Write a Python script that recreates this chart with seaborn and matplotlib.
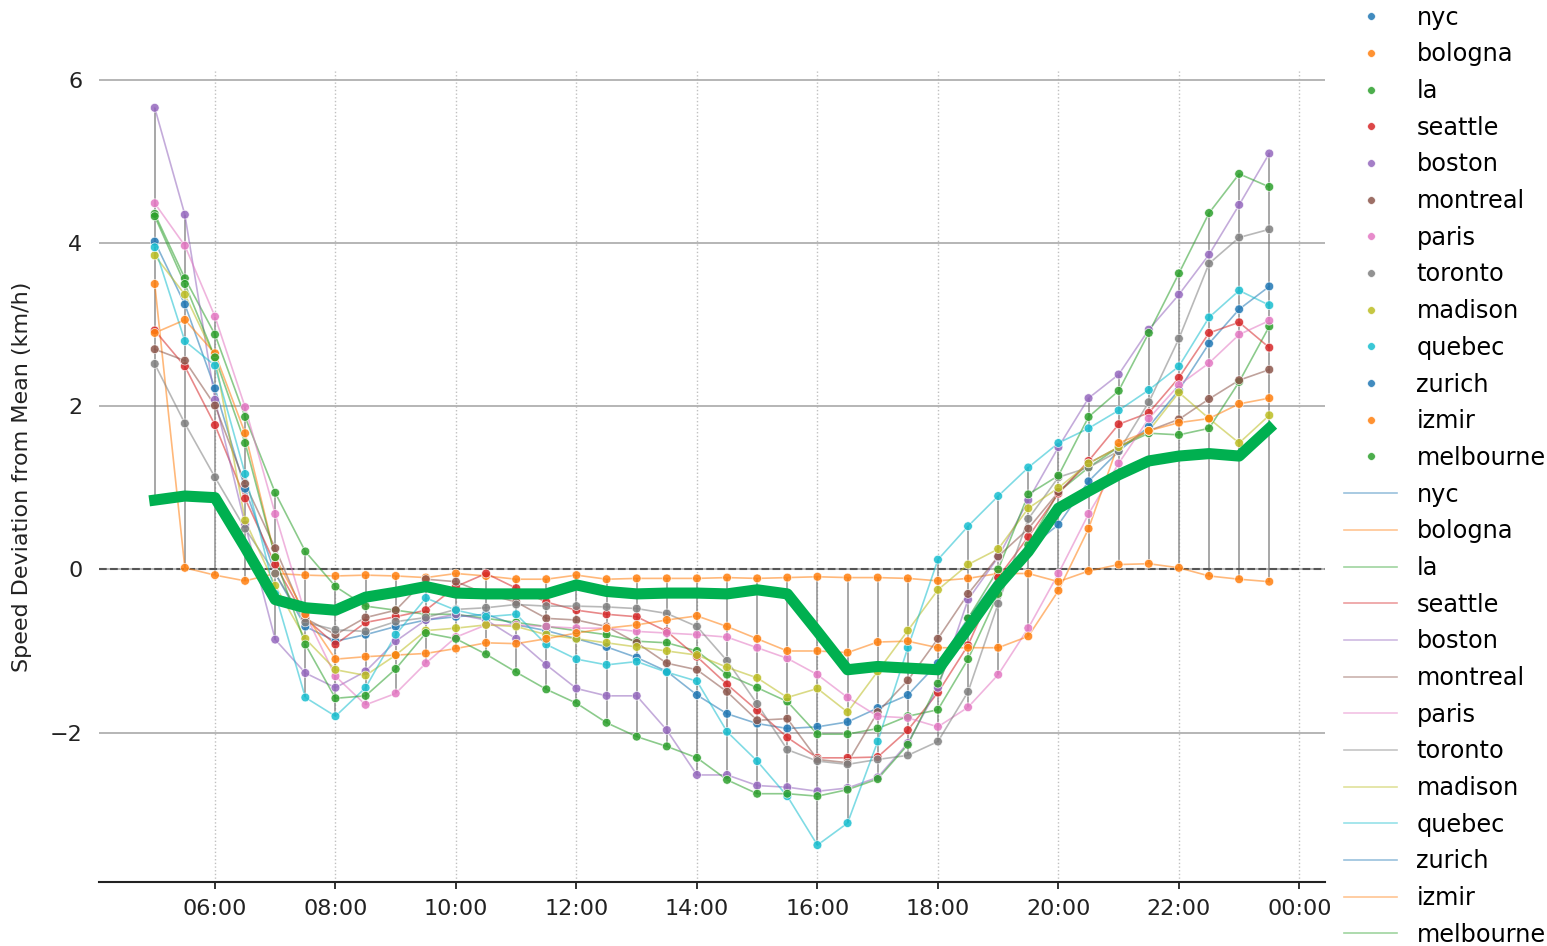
import pandas as pd
import numpy as np
import seaborn as sns
import matplotlib.pyplot as plt
import matplotlib.dates as mdates
from matplotlib.lines import Line2D

# heures (pas de 30 min)
heures = ["05:00", "05:30", "06:00", "06:30", "07:00", "07:30", "08:00", "08:30",
          "09:00", "09:30", "10:00", "10:30", "11:00", "11:30", "12:00", "12:30",
          "13:00", "13:30", "14:00", "14:30", "15:00", "15:30", "16:00", "16:30",
          "17:00", "17:30", "18:00", "18:30", "19:00", "19:30", "20:00", "20:30",
          "21:00", "21:30", "22:00", "22:30", "23:00", "23:30"]

villes = ['nyc', 'bologna', 'la', 'seattle', 'boston', 'montreal', 'paris',
          'toronto', 'madison', 'quebec', 'zurich', 'izmir', 'melbourne']

nyc = [4.02, 3.25, 2.22, 0.99, -0.05, -0.70, -0.88, -0.80, -0.70, -0.62, -0.58, -0.55, -0.68,
       -0.75, -0.85, -0.95, -1.08, -1.25, -1.54, -1.77, -1.89, -1.95, -1.93, -1.87, -1.70,
       -1.54, -1.15, -0.60, -0.10, 0.25, 0.55, 1.08, 1.45, 1.75, 2.20, 2.77, 3.19, 3.47]
bologna = [3.50, 0.02, -0.07, -0.14, -0.05, -0.07, -0.08, -0.07, -0.08, -0.10, -0.05, -0.08, -0.12,
           -0.12, -0.07, -0.12, -0.11, -0.11, -0.11, -0.10, -0.11, -0.10, -0.09, -0.10, -0.10,
           -0.11, -0.14, -0.11, -0.05, -0.05, -0.15, -0.02, 0.06, 0.07, 0.02, -0.08, -0.12, -0.15]
la = [4.36, 3.57, 2.88, 1.87, 0.94, 0.22, -0.21, -0.45, -0.50, -0.55, -0.55, -0.60, -0.65,
      -0.70, -0.75, -0.80, -0.88, -0.90, -1.00, -1.29, -1.45, -1.62, -2.02, -2.02, -1.95,
      -1.80, -1.72, -1.10, -0.30, 0.30, 0.95, 1.25, 1.50, 1.67, 1.65, 1.73, 2.30, 2.98]
seattle = [2.93, 2.49, 1.77, 0.87, 0.06, -0.60, -0.92, -0.65, -0.58, -0.50, -0.21, -0.05, -0.23,
           -0.40, -0.50, -0.55, -0.58, -0.76, -1.07, -1.41, -1.73, -2.06, -2.31, -2.31, -2.30,
           -1.97, -1.51, -0.93, -0.10, 0.40, 0.93, 1.33, 1.78, 1.92, 2.35, 2.90, 3.03, 2.72]
boston = [5.66, 4.35, 2.08, 0.55, -0.86, -1.27, -1.45, -1.25, -0.88, -0.62, -0.55, -0.62, -0.85,
          -1.17, -1.46, -1.55, -1.55, -1.97, -2.52, -2.52, -2.65, -2.67, -2.72, -2.68, -2.55,
          -2.13, -1.45, -0.37, 0.15, 0.85, 1.50, 2.10, 2.39, 2.94, 3.37, 3.86, 4.47, 5.10]
montreal = [2.70, 2.56, 2.01, 1.05, 0.26, -0.60, -0.80, -0.59, -0.50, -0.12, -0.15, -0.30, -0.40,
            -0.60, -0.62, -0.70, -0.90, -1.15, -1.23, -1.50, -1.85, -1.83, -2.33, -2.37, -1.75,
            -1.36, -0.85, -0.30, 0.16, 0.50, 0.95, 1.30, 1.50, 1.70, 1.84, 2.09, 2.32, 2.45]
paris = [4.49, 3.97, 3.10, 1.99, 0.68, -0.55, -1.31, -1.66, -1.52, -1.15, -0.83, -0.68, -0.68,
         -0.70, -0.72, -0.72, -0.76, -0.78, -0.80, -0.83, -0.96, -1.09, -1.29, -1.57, -1.80,
         -1.82, -1.93, -1.69, -1.29, -0.72, -0.05, 0.68, 1.30, 1.85, 2.26, 2.53, 2.88, 3.05]
toronto = [2.52, 1.79, 1.13, 0.50, -0.05, -0.65, -0.74, -0.76, -0.64, -0.59, -0.49, -0.47, -0.43,
           -0.45, -0.45, -0.46, -0.48, -0.54, -0.70, -1.12, -1.65, -2.21, -2.35, -2.39, -2.33,
           -2.28, -2.11, -1.50, -0.42, 0.62, 1.13, 1.25, 1.45, 2.05, 2.83, 3.75, 4.07, 4.17]
madison = [3.85, 3.37, 2.60, 0.60, -0.20, -0.85, -1.23, -1.30, -1.05, -0.75, -0.72, -0.68, -0.70,
           -0.80, -0.85, -0.90, -0.95, -1.00, -1.05, -1.20, -1.33, -1.57, -1.46, -1.75, -1.25,
           -0.75, -0.25, 0.06, 0.25, 0.75, 1.00, 1.30, 1.50, 1.70, 2.17, 1.85, 1.55, 1.89]
quebec = [3.95, 2.80, 2.50, 1.17, -0.30, -1.57, -1.80, -1.45, -0.80, -0.35, -0.50, -0.58, -0.55,
          -0.92, -1.10, -1.17, -1.13, -1.26, -1.37, -1.99, -2.35, -2.78, -3.38, -3.11, -2.11,
          -0.96, 0.12, 0.53, 0.90, 1.25, 1.55, 1.73, 1.95, 2.20, 2.49, 3.09, 3.42, 3.24]
zurich = [0.85, 0.90, 0.88, 0.27, -0.37, -0.47, -0.50, -0.34, -0.28, -0.21, -0.29, -0.30, -0.30,
          -0.30, -0.19, -0.27, -0.30, -0.29, -0.29, -0.30, -0.25, -0.30, -0.76, -1.23, -1.19,
          -1.21, -1.23, -0.72, -0.20, 0.22, 0.75, 0.96, 1.16, 1.33, 1.39, 1.42, 1.39, 1.73]
izmir = [2.90, 3.06, 2.65, 1.67, 0.15, -0.55, -1.10, -1.07, -1.05, -1.03, -0.97, -0.90, -0.91,
         -0.85, -0.78, -0.72, -0.68, -0.62, -0.57, -0.70, -0.85, -1.00, -1.00, -1.02, -0.89,
         -0.88, -0.96, -0.96, -0.96, -0.82, -0.26, 0.50, 1.55, 1.70, 1.80, 1.85, 2.03, 2.10]
melbourne = [4.33, 3.50, 2.60, 1.55, 0.15, -0.92, -1.58, -1.55, -1.22, -0.78, -0.85, -1.04, -1.26,
             -1.47, -1.64, -1.88, -2.05, -2.17, -2.31, -2.58, -2.75, -2.75, -2.78, -2.70, -2.57,
             -2.15, -1.40, -0.60, 0.00, 0.92, 1.15, 1.87, 2.19, 2.90, 3.63, 4.37, 4.85, 4.69]

series = [nyc, bologna, la, seattle, boston, montreal, paris, toronto, madison, quebec,
          zurich, izmir, melbourne]
ville_cible = 'zurich'

# tableau long pour seaborn
df = pd.DataFrame({
    'heure': heures * len(villes),
    'ville': np.repeat(villes, len(heures)),
    'deviation': np.concatenate(series),
})
df['time'] = pd.to_datetime('2024-01-01 ' + df['heure'])

tab10 = sns.color_palette('tab10')
palette = {v: tab10[i % 10] for i, v in enumerate(villes)}

fig = plt.figure(figsize=(15.47, 9.46), dpi=100)
ax = fig.add_axes([0.064, 0.0677, 0.7925, 0.8573])

# plage min-max a chaque heure
grp = df.groupby('time')['deviation']
ax.vlines(grp.min().index, grp.min().values, grp.max().values,
          color='#7f7f7f', lw=1.2, alpha=0.8, zorder=1)

ax.axhline(0, color='#555555', ls='--', lw=1.5, zorder=2)

sns.lineplot(data=df, x='time', y='deviation', hue='ville', palette=palette,
             lw=1.2, alpha=0.55, legend=False, ax=ax, zorder=2)
sns.scatterplot(data=df, x='time', y='deviation', hue='ville', palette=palette,
                s=40, alpha=0.85, edgecolor='white', linewidth=0.5, legend=False, ax=ax, zorder=3)
sns.lineplot(data=df[df['ville'] == ville_cible], x='time', y='deviation',
             color='#00b050', lw=8, legend=False, ax=ax, zorder=4)

ax.grid(axis='y', color='#b0b0b0', lw=1.3)
ax.grid(axis='x', color='#c0c0c0', lw=1.0, ls=':')
ax.set_axisbelow(True)

for side in ['top', 'right', 'left']:
    ax.spines[side].set_visible(False)
ax.spines['bottom'].set_linewidth(1.5)
ax.spines['bottom'].set_color('#222222')

ax.xaxis.set_major_locator(mdates.HourLocator(byhour=range(0, 24, 2)))
ax.xaxis.set_major_formatter(mdates.DateFormatter('%H:%M'))
ax.tick_params(axis='x', labelsize=16, length=5, width=1.3, pad=7, colors='#222222')
ax.tick_params(axis='y', labelsize=16, length=0, pad=12, colors='#222222')

ax.set_xlabel('')
ax.set_ylabel('Speed Deviation from Mean (km/h)', fontsize=16, labelpad=13, color='#222222')

# legende : points puis lignes
poignees = []
etiquettes = []
for v in villes:
    poignees.append(Line2D([], [], marker='o', ls='', color=palette[v], markersize=5.5,
                           markeredgecolor='white', markeredgewidth=0.4, alpha=0.85))
    etiquettes.append(v)
for v in villes:
    poignees.append(Line2D([], [], color=palette[v], lw=1.2, alpha=0.45))
    etiquettes.append(v)

fig.legend(poignees, etiquettes, loc='upper left', bbox_to_anchor=(0.855, 1.0169),
           frameon=False, fontsize=17.3, borderpad=0.4, labelspacing=0.528, handlelength=2.2)

fig.savefig('out.png', dpi=100)
